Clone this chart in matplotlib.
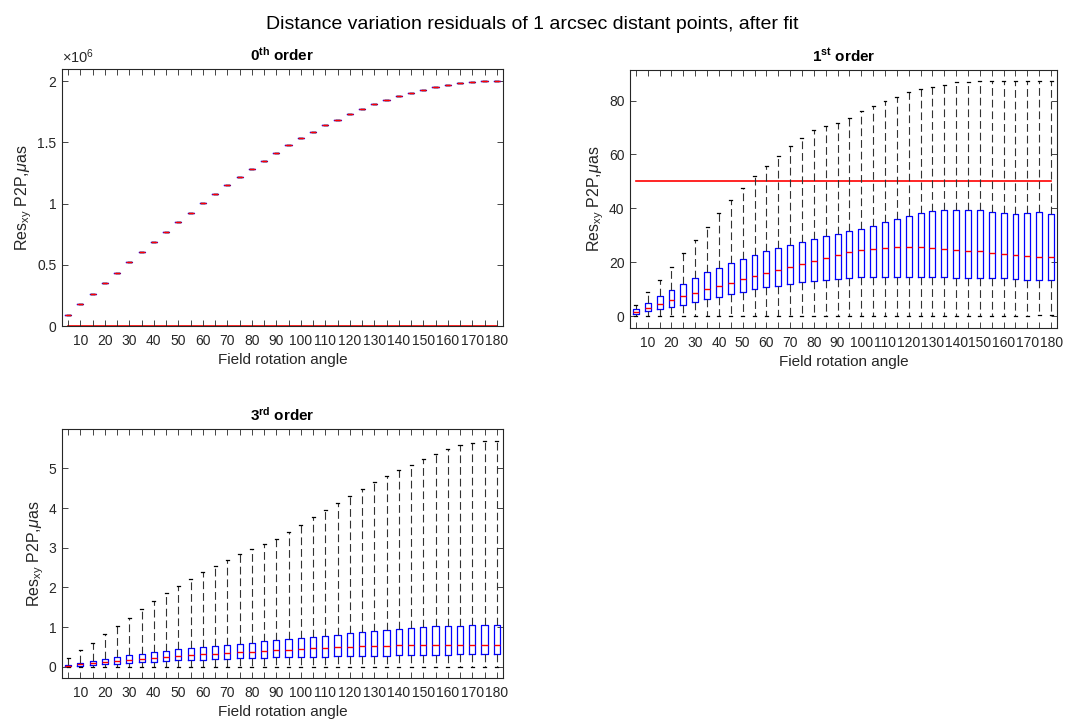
import matplotlib
matplotlib.use("Agg")
import matplotlib.pyplot as plt
from matplotlib.ticker import FuncFormatter

plt.rcParams['font.family'] = ['Liberation Sans', 'DejaVu Sans']
plt.rcParams['mathtext.fontset'] = 'custom'
plt.rcParams['mathtext.rm'] = 'Liberation Sans'
plt.rcParams['mathtext.it'] = 'Liberation Sans:italic'
plt.rcParams['mathtext.bf'] = 'Liberation Sans:bold'

# ---------------- data ----------------
angles = [5, 10, 15, 20, 25, 30, 35, 40, 45, 50, 55, 60, 65, 70, 75, 80, 85, 90,
          95, 100, 105, 110, 115, 120, 125, 130, 135, 140, 145, 150, 155, 160, 165, 170, 175, 180]
labelled_angles = [10, 20, 30, 40, 50, 60, 70, 80, 90, 100, 110, 120, 130, 140, 150, 160, 170, 180]

threshold = 50  # micro-arcsec

# 0th order: boxes collapse to a single value (in units of 1e6 uas)
order0_med = [0.090, 0.180, 0.261, 0.351, 0.435, 0.522, 0.604, 0.688, 0.767, 0.849,
              0.925, 1.004, 1.080, 1.151, 1.219, 1.287, 1.352, 1.415, 1.478, 1.535,
              1.586, 1.641, 1.687, 1.733, 1.774, 1.812, 1.848, 1.880, 1.907, 1.932,
              1.954, 1.973, 1.986, 1.994, 2.000, 2.003]

# 1st order
order1_whishi = [4.3, 8.9, 13.6, 18.4, 23.4, 28.4, 33.3, 38.2, 43.0, 47.4, 51.9, 55.8,
                 59.5, 63.1, 66.3, 68.9, 70.4, 71.7, 73.7, 76.0, 78.1, 79.9, 81.5, 83.0,
                 84.1, 85.2, 85.9, 86.7, 87.0, 87.2, 87.3, 87.3, 87.2, 87.2, 87.2, 87.2]
order1_q3 = [2.6, 5.1, 7.4, 9.9, 12.0, 14.2, 16.3, 18.1, 19.9, 21.4, 22.8, 24.1,
             25.2, 26.3, 27.6, 28.6, 29.6, 30.7, 31.5, 32.5, 33.5, 34.9, 36.0, 37.2,
             38.2, 38.9, 39.4, 39.6, 39.6, 39.3, 38.8, 38.2, 37.8, 38.3, 38.6, 37.8]
order1_med = [1.7, 3.2, 4.6, 6.1, 7.4, 8.7, 10.0, 11.3, 12.5, 13.7, 14.8, 15.9,
              17.2, 18.3, 19.5, 20.6, 21.8, 22.9, 23.7, 24.5, 25.0, 25.3, 25.6, 25.6,
              25.6, 25.3, 25.0, 24.7, 24.4, 24.1, 23.6, 23.2, 22.6, 22.4, 22.0, 21.9]
order1_q1 = [0.9, 1.9, 2.6, 3.5, 4.3, 5.3, 6.3, 7.3, 8.2, 9.1, 10.0, 10.8,
             11.4, 12.0, 12.6, 13.1, 13.6, 14.0, 14.3, 14.6, 14.7, 14.7, 14.7, 14.7,
             14.6, 14.6, 14.5, 14.3, 14.2, 14.2, 14.1, 14.1, 13.8, 13.6, 13.5, 13.5]
order1_whislo = [0.0, 0.0, 0.0, 0.0, 0.0, 0.0, 0.0, 0.0, 0.0, 0.0, 0.0, 0.0,
                 0.1, 0.1, 0.1, 0.1, 0.1, 0.1, 0.1, 0.1, 0.1, 0.1, 0.1, 0.1,
                 0.1, 0.1, 0.1, 0.2, 0.2, 0.2, 0.2, 0.2, 0.3, 0.3, 0.4, 0.5]

# 3rd order
order3_whishi = [0.21, 0.41, 0.61, 0.82, 1.03, 1.24, 1.45, 1.65, 1.87, 2.04, 2.21, 2.39,
                 2.54, 2.68, 2.83, 2.97, 3.10, 3.23, 3.39, 3.58, 3.77, 3.96, 4.13, 4.31,
                 4.49, 4.65, 4.80, 4.96, 5.08, 5.23, 5.37, 5.49, 5.58, 5.65, 5.68, 5.70]
order3_q3 = [0.034, 0.09, 0.14, 0.19, 0.24, 0.29, 0.32, 0.36, 0.40, 0.44, 0.46, 0.50,
             0.52, 0.55, 0.58, 0.61, 0.65, 0.68, 0.71, 0.73, 0.76, 0.78, 0.81, 0.84,
             0.88, 0.91, 0.92, 0.96, 0.97, 1.00, 1.02, 1.03, 1.03, 1.05, 1.06, 1.06]
order3_med = [0.025, 0.06, 0.09, 0.12, 0.15, 0.18, 0.20, 0.22, 0.24, 0.27, 0.29, 0.31,
              0.33, 0.34, 0.36, 0.38, 0.39, 0.41, 0.43, 0.45, 0.46, 0.48, 0.49, 0.50,
              0.51, 0.52, 0.53, 0.54, 0.55, 0.55, 0.55, 0.55, 0.55, 0.55, 0.55, 0.55]
order3_q1 = [0.017, 0.03, 0.04, 0.06, 0.08, 0.09, 0.11, 0.13, 0.14, 0.16, 0.17, 0.18,
             0.19, 0.20, 0.21, 0.22, 0.22, 0.24, 0.24, 0.24, 0.25, 0.25, 0.26, 0.27,
             0.28, 0.28, 0.28, 0.29, 0.29, 0.30, 0.30, 0.30, 0.31, 0.31, 0.31, 0.31]
order3_whislo = [0.0] * 36

# ---------------- plotting ----------------
AXC = '0.15'


def make_stats(whislo, q1, med, q3, whishi, scale=1.0):
    return [dict(whislo=a * scale, q1=b * scale, med=c * scale, q3=d * scale,
                 whishi=e * scale, fliers=[])
            for a, b, c, d, e in zip(whislo, q1, med, q3, whishi)]


def draw(ax, stats, title, ylim, yticks, yfmt):
    positions = list(range(1, len(angles) + 1))
    ax.bxp(stats, positions=positions, widths=0.5, capwidths=0.25,
           showfliers=False, manage_ticks=False,
           boxprops=dict(color='blue', linewidth=0.9),
           medianprops=dict(color='red', linewidth=1.0),
           whiskerprops=dict(color='0.2', linewidth=0.8, linestyle=(0, (7, 3.5))),
           capprops=dict(color='k', linewidth=0.9))
    ax.plot([positions[0], positions[-1]], [threshold, threshold], color='#ff0000',
            linewidth=1.2, zorder=1)
    ax.set_xlim(0.5, len(angles) + 0.5)
    ax.set_ylim(*ylim)
    ax.set_xticks(positions)
    ax.set_xticklabels([str(a) if a in labelled_angles else '' for a in angles])
    ax.set_yticks(yticks)
    ax.yaxis.set_major_formatter(FuncFormatter(yfmt))
    ax.tick_params(direction='in', top=True, right=True, length=4, width=0.6,
                   colors=AXC, labelsize=10)
    ax.tick_params(axis='x', pad=6)
    ax.tick_params(axis='y', pad=4)
    for s in ax.spines.values():
        s.set_color(AXC)
        s.set_linewidth(0.8)
    ax.set_title(title, fontsize=11, fontweight='bold', color='k', pad=6)
    ax.set_xlabel('Field rotation angle', fontsize=11, color=AXC, labelpad=3)
    ax.set_ylabel(r'Res$_{\rm xy}$ P2P,$\mu$as', fontsize=11.5, color=AXC, labelpad=2)


fig = plt.figure(figsize=(10.65, 7.21), dpi=100)
fig.suptitle('Distance variation residuals of 1 arcsec distant points, after fit',
             fontsize=14, y=0.978)

ax1 = fig.add_axes([0.0582, 0.5478, 0.414, 0.3564])
ax2 = fig.add_axes([0.5915, 0.545, 0.401, 0.358])
ax3 = fig.add_axes([0.0582, 0.0596, 0.414, 0.345])

stats0 = make_stats(order0_med, order0_med, order0_med, order0_med, order0_med, scale=1e6)
draw(ax1, stats0, r'$\mathbf{0^{th}}$ order', (0, 2.1e6),
     [0, 0.5e6, 1e6, 1.5e6, 2e6], lambda v, p: f'{v / 1e6:g}')
ax1.text(0.0, 1.012, r'$\times$10$^{6}$', transform=ax1.transAxes, fontsize=10.5,
         color=AXC, ha='left', va='bottom')

stats1 = make_stats(order1_whislo, order1_q1, order1_med, order1_q3, order1_whishi)
draw(ax2, stats1, r'$\mathbf{1^{st}}$ order', (-4.35, 91.35),
     [0, 20, 40, 60, 80], lambda v, p: f'{v:g}')

stats3 = make_stats(order3_whislo, order3_q1, order3_med, order3_q3, order3_whishi)
draw(ax3, stats3, r'$\mathbf{3^{rd}}$ order', (-0.285, 5.985),
     [0, 1, 2, 3, 4, 5], lambda v, p: f'{v:g}')

fig.savefig('out.png', dpi=100)
